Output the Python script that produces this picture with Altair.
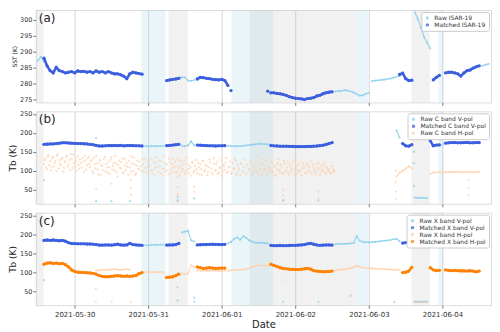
import altair as alt
import pandas as pd

# ---------------- data ----------------
T0 = pd.Timestamp("2021-05-29 12:00")  # hour 0 of the hourly grid

DATE_TICKS = ["2021-05-30", "2021-05-31", "2021-06-01", "2021-06-02", "2021-06-03", "2021-06-04"]

GRAY_BANDS = [("2021-05-29T11:20:00", "2021-05-29T13:54:00"),
              ("2021-05-31T06:38:00", "2021-05-31T12:57:00"),
              ("2021-06-01T09:09:00", "2021-06-02T19:35:00"),
              ("2021-06-03T13:54:00", "2021-06-03T19:54:00")]
BLUE_BANDS = [("2021-05-30T21:47:00", "2021-05-31T05:41:00"),
              ("2021-06-01T03:09:00", "2021-06-01T16:44:00"),
              ("2021-06-02T19:35:00", "2021-06-02T23:41:00"),
              ("2021-06-03T22:44:00", "2021-06-04T00:19:00")]

# segments: (start hour, hourly values)
SST_RAW = [(0, [287.2, 288.4, 286.9]),
           (46, [281.9, 282.0, 282.0, 281.0, 280.9, 281.2]),
           (97, [277.6, 277.8, 277.7, 278.0, 277.9, 277.6, 277.3, 276.8, 276.3, 276.4, 276.9, 277.2]),
           (109, [280.8, 281.0, 281.1, 281.2, 281.3, 281.5, 281.6, 281.9, 282.2, 282.4]),
           (123, [302.2, 300.2, 297.4, 294.6, 292.8, 291.0]),
           (145, [285.6, 285.9, 286.2])]
SST_MATCHED = [(2, [288.0, 285.6, 284.1, 283.4, 285.1, 284.1, 283.8, 283.4, 283.6, 283.8, 283.4, 284.0,
                    283.8, 283.9, 283.6, 283.8, 283.4, 284.0, 283.6, 283.8, 283.4, 283.8, 283.4, 283.1,
                    283.1, 282.8, 282.4, 281.6, 283.1, 283.6, 283.4, 283.2, 283.0]),
               (42, [281.0, 281.2, 281.4, 281.5, 281.7]),
               (52, [281.5, 282.0, 281.9, 281.7, 281.6, 281.4, 281.3, 281.2, 281.4, 281.0, 279.5]),
               (63, [277.9]),
               (75, [277.7]),
               (76, [277.2, 277.2, 277.0, 276.9, 276.7, 276.4, 276.0, 275.7, 275.5, 275.4, 275.3, 275.1,
                     275.4, 275.5, 275.7, 276.2, 276.4, 276.9, 277.2, 277.4, 277.5]),
               (118, [282.9, 283.3, 281.6, 281.0, 281.1]),
               (129, [281.2, 282.0, 282.6]),
               (133, [283.4, 283.6, 283.6, 283.4, 283.1, 282.4, 283.4, 284.1, 284.3, 284.9, 285.3, 285.6])]

CV_RAW = [(35, [165, 165, 165.5, 165, 165, 165.5, 166]),
          (47, [166, 165, 167, 178, 167]),
          (62, [166, 165.5, 165, 165, 165.5, 166, 167, 168, 169, 170, 171, 171, 170.5, 170]),
          (117, [207, 188]),
          (123, [29, 28.5, 28.5, 28, 28]),
          (132, [168])]
CV_MATCHED = [(2, [170, 170.5, 171, 171, 172, 173, 174, 174, 173.5, 173, 172.5, 172, 172, 171.5, 171,
                   170, 169, 167, 165.5, 165.5, 166, 166.5, 166.5, 167, 166.5, 167, 166, 166.5, 167,
                   166.5, 166, 166, 165.5]),
              (42, [166.5, 167, 168, 169, 170]),
              (52, [168, 167.5, 167, 166.5, 166, 166, 165.5, 166, 166, 166.5]),
              (76, [167, 166, 165.5, 165, 165, 165, 164.5, 164.5, 164, 164, 164, 164, 164.5, 164.5,
                    165, 165.5, 166.5, 167.5, 169.5, 172, 174.5]),
              (119, [172, 166, 165, 169]),
              (128, [180, 166, 168, 168.5]),
              (133, [173, 174, 174.5, 174.5, 174, 174, 174.5, 175, 174, 174, 174.5, 174.5])]
CV_OUT_H = [2, 19, 19, 24, 30, 45.6, 45.6, 51, 80, 91.5, 122.7, 122.7, 122.7, 122.7, 122.7]
CV_OUT_V = [75, 187, 20, 20, 20, 22, 30, 27, 22, 22, 240, 215, 150, 120, 60]

# noisy raw C band H-pol, half-hourly from hour 2 (two readings per half hour)
CH_NOISE_A = [118, 132, 104, 141, 126, 110, 137, 121, 99, 145, 128, 115, 134, 108, 124, 140, 117, 102,
              130, 143, 112, 125, 138, 106, 120, 133, 97, 127, 115, 136,
              110, 128, 94, 118, 139, 103, 122, 88, 115, 131, 99, 108, 124, 92, 136, 113, 101, 119,
              85, 127, 106, 133, 96, 114, 121, 90, 109, 138, 100, 117, 93, 126, 104, 112, 130, 98,
              107, 124, 95, 115, 133, 101, 88, 119, 110, 127, 93, 105, 139, 98, 116, 90, 122, 103,
              131, 96, 112, 85, 108, 126, 99, 118, 92, 135, 104, 114, 87, 121, 100, 128, 94, 109,
              117, 89, 125, 102, 113, 97, 130, 106, 91, 119, 101, 124, 95, 110, 86, 116, 103, 134,
              98, 111, 92, 120, 105, 127, 96, 108, 88, 118, 100, 129, 93, 112, 104, 122, 90, 107,
              115, 97, 137, 102, 89, 117, 106, 126, 94, 110, 99, 121, 87, 113, 103, 131, 96, 108,
              92, 119, 101, 124, 90, 111, 98, 128, 105, 93, 116, 100, 88, 120, 107, 95, 113, 102,
              125, 91, 109, 97, 118, 104, 89, 114, 99, 122, 94, 106, 103, 92, 111, 97]
CH_NOISE_B = [128, 109, 138, 115, 101, 133, 112, 127, 140, 106, 119, 131, 98, 125, 136, 111, 129, 144,
              107, 121, 135, 100, 116, 130, 109, 124, 139, 103, 133, 118,
              125, 99, 134, 107, 120, 91, 128, 113, 102, 137, 118, 95, 110, 129, 104, 121, 140, 96,
              116, 108, 123, 93, 131, 102, 111, 126, 97, 119, 135, 89, 114, 106, 124, 99, 117, 132,
              96, 111, 128, 102, 92, 123, 108, 136, 98, 114, 125, 89, 106, 120, 101, 132, 94, 117,
              109, 123, 97, 130, 90, 112, 105, 127, 99, 118, 93, 108, 124, 96, 113, 103, 121, 91,
              104, 126, 98, 115, 88, 110, 122, 95, 133, 101, 117, 92, 107, 128, 99, 113, 121, 94,
              109, 125, 97, 106, 131, 90, 115, 102, 122, 96, 110, 87, 118, 104, 127, 95, 113, 100,
              124, 92, 108, 119, 98, 130, 103, 91, 114, 106, 123, 97, 111, 88, 120, 102, 116, 94,
              126, 99, 109, 95, 118, 104, 121, 90, 112, 101, 97, 124, 107, 114, 93, 119, 99, 110,
              96, 117, 103, 91, 108, 122, 98, 105, 115, 94, 109, 100, 96, 113, 104, 99]
CH_RAW = [(117, [85, 95, 100, 105, 112, 106]),
          (128, [92, 95, 96, 96, 97, 96, 97, 96.5, 97, 98, 97, 96, 97, 97.5, 96, 97, 97.5])]
CH_OUT_H = [19, 24, 30.4, 30.4, 30.4, 45.6, 45.6, 45.6, 51, 51, 80, 80, 80, 91.5, 91.5,
            116.8, 116.8, 116.8, 116.8, 140.5, 140.5, 140.5]
CH_OUT_V = [52, 66, 75, 55, 37, 57, 38, 20, 58, 45, 50, 35, 22, 45, 28, 100, 70, 45, 25, 75, 55, 35]

XV_RAW = [(35, [171, 171, 171.5, 172, 172, 172.5, 173]),
          (47, [205, 207, 209, 184, 181]),
          (62, [176, 180, 188, 192, 186, 195, 190, 184, 180, 178, 177, 178, 177, 176]),
          (97, [174, 174.5, 175, 175, 175.5, 176, 177, 195, 183, 180, 179, 179, 179.5, 180, 181,
                182, 183, 184, 185, 187, 188, 182]),
          (123, [22.5, 22.5, 22.0, 22.5, 22.5]),
          (132, [174])]
XV_MATCHED = [(2, [184, 185, 184, 185, 184, 183, 184, 182, 178, 176, 175.5, 175, 175, 175, 174.5,
                   174.5, 174, 173, 171.5, 171.5, 172, 172, 171.5, 172.5, 174, 172, 171.5, 172, 176,
                   173, 172, 171.5, 171]),
              (42, [171.5, 172, 172, 173, 176]),
              (52, [172, 172.5, 173, 173, 173.5, 174, 173.5, 173, 173, 173.5]),
              (76, [171, 170, 170, 170.5, 170, 170, 170.5, 171, 171, 171.5, 172, 173, 175, 176, 174,
                    172, 171, 171.5, 172, 172, 171.5]),
              (119, [177, 178, 180, 176]),
              (128, [180, 172, 171, 172]),
              (133, [175, 175.5, 175, 174.5, 175, 175.5, 175, 174, 174.5, 175, 175.5, 175.5])]
XV_OUT_H = [2, 45.6, 45.6, 45.6, 51, 51, 80, 91.5, 102, 116.3, 122.5, 122.5]
XV_OUT_V = [79, 96, 60, 25, 33, 22, 22, 22, 38, 21, 233, 218]

XH_RAW = [(19, [104, 105, 106, 106, 107, 107, 108, 107, 106, 107, 108, 107]),
          (35, [99.5, 100, 100, 100.5, 100, 100, 99.5]),
          (47, [96, 95, 96, 118, 113]),
          (52, [105, 104, 104, 103.5, 104, 104.5, 104, 103.5, 104, 104]),
          (62, [104, 105, 106, 106, 107, 107, 108, 110, 114, 117, 119, 118, 117, 116]),
          (97, [105, 106, 107, 108, 109, 111, 113, 117, 114, 112, 111, 110, 110, 109.5, 109,
                108.5, 108, 107.5, 107, 107, 106.5, 106]),
          (123, [21, 21, 21.5, 21, 21]),
          (132, [104])]
XH_MATCHED = [(2, [121, 124, 125, 123, 124, 122, 123, 120, 114, 106, 102, 100, 99.5, 99, 98.5, 98,
                   97, 95, 91, 89, 88, 88, 89, 90, 91, 90, 89, 90, 89, 90, 91, 96, 99]),
              (42, [86, 87, 88, 91, 95]),
              (52, [114, 112, 110, 111, 112, 111, 110, 110.5, 111, 111]),
              (76, [121, 118, 115, 112, 110, 109, 108, 107.5, 107, 107, 108, 109, 110, 108, 104,
                    103, 102, 101, 101.5, 102, 103]),
              (119, [99, 100, 103, 113]),
              (128, [112, 106, 104, 105]),
              (133, [106, 105, 104, 104.5, 104, 103.5, 103.5, 103, 104, 103, 101, 103])]
XH_OUT_H = [18.9, 18.9, 24.1, 30.4, 80]
XH_OUT_V = [56, 22, 22, 21, 79]

RAW_BLUE = "#8ccfee"
MATCH_BLUE = "#3b5fdf"
RAW_ORANGE = "#ffd2ad"
MATCH_ORANGE = "#ff8205"

# ---------------- helpers ----------------
def ts(h):
    return (T0 + pd.Timedelta(hours=h)).strftime("%Y-%m-%dT%H:%M:%S")


def seg_rows(name, kind, segs, step=1.0, line=True, offset=0.0):
    rows = []
    for k, (start, vals) in enumerate(segs):
        for j, v in enumerate(vals):
            rows.append({"t": ts(start + offset + j * step), "v": v, "series": name, "kind": kind,
                         "seg": f"{name}|{k}|{offset}", "line": line})
    return rows


def out_rows(name, hrs, vals):
    return [{"t": ts(h), "v": v, "series": name, "kind": "raw", "seg": f"{name}|o{i}",
             "line": False} for i, (h, v) in enumerate(zip(hrs, vals))]


def dt(s, h=0, m=0):
    y, mo, d = [int(p) for p in s.split("-")]
    return alt.DateTime(year=y, month=mo, date=d, hours=h, minutes=m)


bands_gray = pd.DataFrame(GRAY_BANDS, columns=["start", "end"])
bands_blue = pd.DataFrame(BLUE_BANDS, columns=["start", "end"])

W, H = 458, 93
XSCALE = alt.Scale(domain=[dt("2021-05-29", 11, 20), dt("2021-06-04", 15, 50)])
TICKS = [dt(s) for s in DATE_TICKS]


def panel(df, domain, colors, ydom, yvals, ytitle, ytsize, label, bottom):
    xaxis = alt.Axis(values=TICKS, format="%Y-%m-%d", grid=True, gridColor="#d4d4d4", gridWidth=1,
                     labels=bottom, ticks=True, tickSize=3, tickColor="#777", domain=False,
                     labelFontSize=7, labelColor="#333", labelPadding=2,
                     title="Date" if bottom else None, titleFontSize=10, titleFontWeight="normal",
                     titleColor="#222", titlePadding=2)
    yaxis = alt.Axis(values=yvals, grid=False, domain=False, tickSize=3, tickColor="#777",
                     labelFontSize=6.5, labelColor="#333", labelPadding=1, title=ytitle,
                     titleFontSize=ytsize, titleFontWeight="normal", titleColor="#222",
                     titlePadding=2)
    xf = lambda f: alt.X(f, type="temporal", scale=XSCALE, axis=xaxis)
    yv = alt.Y("v:Q", scale=alt.Scale(domain=ydom, nice=False, zero=False), axis=yaxis)
    leg = alt.Legend(orient="top-right", title=None, fillColor="white", strokeColor="#cccccc",
                     padding=3, offset=2, labelFontSize=6, labelColor="#333", symbolSize=12,
                     rowPadding=1, cornerRadius=2, symbolType="circle", labelLimit=200)
    col = alt.Color("series:N", scale=alt.Scale(domain=domain, range=colors), legend=leg)

    layers = [
        alt.Chart(bands_blue).mark_rect(color="#add8e6", opacity=0.25).encode(
            x=xf("start"), x2="end"),
        alt.Chart(bands_gray).mark_rect(color="#bdbdbd", opacity=0.22).encode(
            x=xf("start"), x2="end"),
    ]
    base = alt.Chart(df)
    for kind, lw, ps, op in (("raw", 1.2, 5, 0.75), ("matched", 2.6, 11, 1.0)):
        for name, c in zip(domain, colors):
            if not (df[(df.series == name) & (df.kind == kind) & (df.line)].shape[0]):
                continue
            layers.append(
                base.transform_filter(
                    f"datum.line && datum.kind == '{kind}' && datum.series == '{name}'"
                ).mark_line(color=c, strokeWidth=lw, opacity=0.9 if kind == "raw" else 1).encode(
                    x=xf("t"), y=yv, detail="seg:N"))
        layers.append(
            base.transform_filter(f"datum.kind == '{kind}'").mark_circle(
                size=ps, opacity=op).encode(x=xf("t"), y=yv, color=col))
    layers.append(
        alt.Chart(pd.DataFrame({"lab": [label]})).mark_text(
            align="left", baseline="top", fontSize=12, color="#222").encode(
            text="lab:N", x=alt.value(3), y=alt.value(3)))
    return alt.layer(*layers).properties(width=W, height=H)


# panel a
rows_a = (seg_rows("Raw ISAR-19", "raw", SST_RAW)
          + seg_rows("Matched ISAR-19", "matched", SST_MATCHED))
pa = panel(pd.DataFrame(rows_a), ["Raw ISAR-19", "Matched ISAR-19"], [RAW_BLUE, MATCH_BLUE],
           [274.2, 303], [275, 280, 285, 290, 295, 300], "SST (K)", 6, "(a)", False)

# panel b
rows_b = (seg_rows("Raw C band H-pol", "raw", [(2, CH_NOISE_A)], step=0.5, line=False)
          + seg_rows("Raw C band H-pol", "raw", [(2, CH_NOISE_B)], step=0.5, line=False,
                     offset=0.25)
          + seg_rows("Raw C band H-pol", "raw", CH_RAW)
          + out_rows("Raw C band H-pol", CH_OUT_H, CH_OUT_V)
          + seg_rows("Raw C band V-pol", "raw", CV_RAW)
          + out_rows("Raw C band V-pol", CV_OUT_H, CV_OUT_V)
          + seg_rows("Matched C band V-pol", "matched", CV_MATCHED))
pb = panel(pd.DataFrame(rows_b), ["Raw C band V-pol", "Matched C band V-pol", "Raw C band H-pol"],
           [RAW_BLUE, MATCH_BLUE, RAW_ORANGE], [13, 257], [50, 100, 150, 200, 250],
           "Tb (K)", 9, "(b)", False)

# panel c
rows_c = (seg_rows("Raw X band H-pol", "raw", XH_RAW)
          + out_rows("Raw X band H-pol", XH_OUT_H, XH_OUT_V)
          + seg_rows("Raw X band V-pol", "raw", XV_RAW)
          + out_rows("Raw X band V-pol", XV_OUT_H, XV_OUT_V)
          + seg_rows("Matched X band H-pol", "matched", XH_MATCHED)
          + seg_rows("Matched X band V-pol", "matched", XV_MATCHED))
pc = panel(pd.DataFrame(rows_c),
           ["Raw X band V-pol", "Matched X band V-pol", "Raw X band H-pol", "Matched X band H-pol"],
           [RAW_BLUE, MATCH_BLUE, RAW_ORANGE, MATCH_ORANGE], [13, 257], [50, 100, 150, 200, 250],
           "Tb (K)", 9, "(c)", True)

chart = alt.vconcat(pa, pb, pc, spacing=4).resolve_scale(color="independent").resolve_legend(
    color="independent").properties(
    padding={"left": 0, "top": 0, "right": 0, "bottom": 0}, background="white"
).configure_view(stroke="#a0a0a0", strokeWidth=1).configure(font="DejaVu Sans")

chart.save("out.html", embed_options={"renderer": "svg", "actions": False})
